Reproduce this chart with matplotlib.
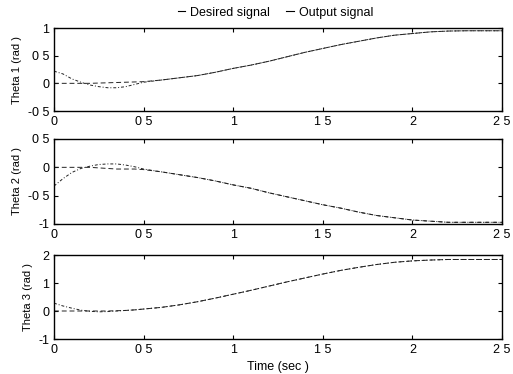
import matplotlib
matplotlib.use("Agg")
import matplotlib.pyplot as plt
from matplotlib.lines import Line2D

plt.rcParams['font.family'] = ['Liberation Sans', 'DejaVu Sans']

t = [0, 0.05, 0.1, 0.15, 0.2, 0.25, 0.3, 0.35, 0.4, 0.45, 0.5, 0.6, 0.7, 0.8, 0.9,
     1.0, 1.1, 1.2, 1.3, 1.4, 1.5, 1.6, 1.7, 1.8, 1.9, 2.0, 2.1, 2.2, 2.3, 2.4, 2.5]

des1 = [0, 0, 0, 0, 0, 0.005, 0.01, 0.015, 0.02, 0.025, 0.03, 0.06, 0.10, 0.14, 0.20,
        0.27, 0.33, 0.40, 0.48, 0.56, 0.63, 0.70, 0.76, 0.82, 0.87, 0.90, 0.93, 0.945, 0.95, 0.95, 0.95]
out1 = [0.22, 0.17, 0.08, 0.02, -0.03, -0.06, -0.08, -0.08, -0.06, -0.02, 0.02, 0.06, 0.10, 0.14, 0.20,
        0.27, 0.33, 0.40, 0.48, 0.56, 0.63, 0.70, 0.76, 0.82, 0.87, 0.90, 0.93, 0.945, 0.95, 0.95, 0.95]

des2 = [0, 0, 0, 0, 0, -0.01, -0.02, -0.03, -0.03, -0.03, -0.04, -0.08, -0.13, -0.18, -0.24,
        -0.31, -0.37, -0.45, -0.52, -0.59, -0.66, -0.72, -0.79, -0.85, -0.89, -0.93, -0.95, -0.97, -0.97, -0.97, -0.97]
out2 = [-0.33, -0.20, -0.09, -0.02, 0.02, 0.05, 0.06, 0.06, 0.04, 0.01, -0.03, -0.08, -0.13, -0.18, -0.24,
        -0.31, -0.37, -0.45, -0.52, -0.59, -0.66, -0.72, -0.79, -0.85, -0.89, -0.93, -0.95, -0.97, -0.97, -0.97, -0.97]

des3 = [0, 0, 0, 0, 0, 0, 0, 0.01, 0.02, 0.04, 0.07, 0.13, 0.22, 0.33, 0.46,
        0.60, 0.74, 0.89, 1.04, 1.18, 1.32, 1.45, 1.56, 1.66, 1.74, 1.79, 1.82, 1.84, 1.84, 1.84, 1.84]
out3 = [0.28, 0.18, 0.10, 0.03, -0.01, -0.03, -0.02, 0.0, 0.02, 0.04, 0.07, 0.13, 0.22, 0.33, 0.46,
        0.60, 0.74, 0.89, 1.04, 1.18, 1.32, 1.45, 1.56, 1.66, 1.74, 1.79, 1.82, 1.84, 1.84, 1.84, 1.84]

xticks = [0, 0.5, 1, 1.5, 2, 2.5]
xticklabels = ['0', '0 5', '1', '1 5', '2', '2 5']
panels = [
    (des1, out1, 'Theta 1 (rad )', (-0.5, 1), [-0.5, 0, 0.5, 1], ['-0 5', '0', '0 5', '1']),
    (des2, out2, 'Theta 2 (rad )', (-1, 0.5), [-1, -0.5, 0, 0.5], ['-1', '-0 5', '0', '0 5']),
    (des3, out3, 'Theta 3 (rad )', (-1, 2), [-1, 0, 1, 2], ['-1', '0', '1', '2']),
]

W, H = 513, 374
fig = plt.figure(figsize=(W / 100, H / 100), dpi=100)
boxes = [(28, 111), (139, 224), (255, 339)]
x0, x1 = 54, 502
fs = 9
for (des, out, lab, ylim, yt, ytl), (top, bot) in zip(panels, boxes):
    ax = fig.add_axes([x0 / W, 1 - bot / H, (x1 - x0) / W, (bot - top) / H])
    ax.plot(t, des, color='#222222', lw=0.7, ls=(0, (5, 3)))
    ax.plot(t, out, color='#222222', lw=0.7, ls=(0, (3, 2, 1, 2)))
    ax.set_xlim(0, 2.5)
    ax.set_ylim(*ylim)
    ax.set_xticks(xticks)
    ax.set_xticklabels(xticklabels, fontsize=fs)
    ax.set_yticks(yt)
    ax.set_yticklabels(ytl, fontsize=fs)
    ax.tick_params(direction='in', top=True, right=True, length=3, width=0.8)
    ax.set_ylabel(lab, fontsize=fs - 1)
    for s in ax.spines.values():
        s.set_linewidth(1.0)
ax.set_xlabel('Time (sec )', fontsize=fs)

handles = [Line2D([], [], color='black', lw=0.8, ls='-'),
           Line2D([], [], color='black', lw=0.8, ls='-')]
fig.legend(handles, ['Desired signal', 'Output signal'], loc='upper center',
           bbox_to_anchor=(0.537, 1.012), ncol=2, frameon=False, fontsize=fs,
           handlelength=0.6, handletextpad=0.4, columnspacing=1.3)

fig.savefig('out.png', dpi=100)
